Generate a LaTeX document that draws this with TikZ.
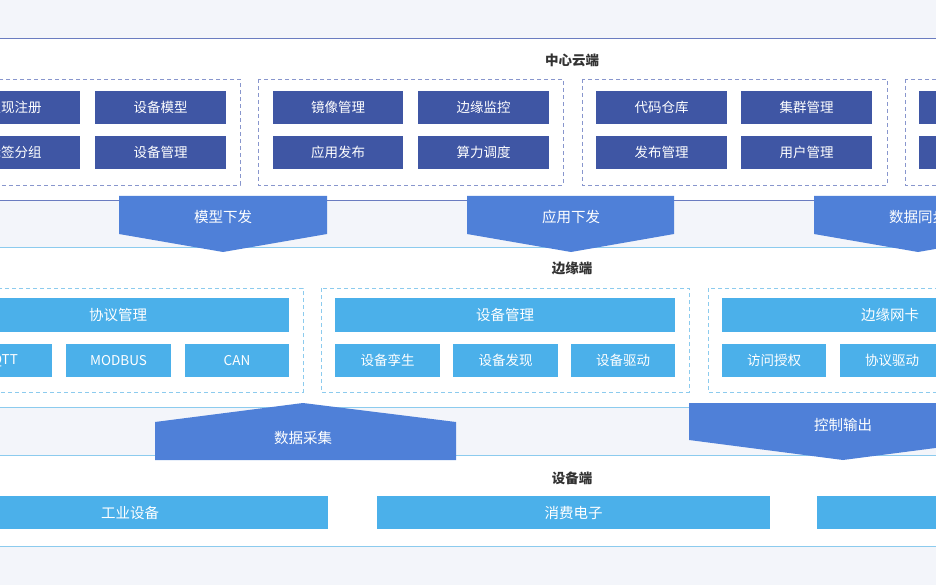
\documentclass[tikz,border=0pt]{standalone}
\usepackage{fontspec}
\setmainfont{Noto Sans CJK SC}
\definecolor{bg}{HTML}{F3F5FA}
\definecolor{dk}{HTML}{3F56A4}
\definecolor{lb}{HTML}{4BB0EA}
\definecolor{ar}{HTML}{4F80D8}
\definecolor{ln1}{HTML}{6A7CC0}
\definecolor{ln2}{HTML}{8CCBEE}
\definecolor{tt}{HTML}{333333}
\begin{document}
\begin{tikzpicture}[x=1pt,y=-1pt,
  dbox/.style={fill=dk},
  lbox/.style={fill=lb},
  bt/.style={text=white,font=\fontsize{13.5}{14}\selectfont},
  grp1/.style={draw=ln1!80,dashed,dash pattern=on 4pt off 3pt},
  grp2/.style={draw=ln2,dashed,dash pattern=on 4pt off 3pt},
  arr/.style={fill=ar},
  atxt/.style={text=white,font=\fontsize{14.5}{15}\selectfont},
  ttl/.style={text=tt,font=\fontsize{13.5}{14}\selectfont\bfseries}]
\useasboundingbox (0,0) rectangle (936,585);
\clip (0,0) rectangle (936,585);
\fill[bg] (0,0) rectangle (936,585);
% bands
\fill[white] (-10,38) rectangle (946,200);
\draw[ln1] (-10,38) -- (946,38); \draw[ln1] (-10,200) -- (946,200);
\fill[white] (-10,247) rectangle (946,407);
\draw[ln2] (-10,247) -- (946,247); \draw[ln2] (-10,407) -- (946,407);
\fill[white] (-10,455) rectangle (946,546);
\draw[ln2] (-10,455) -- (946,455); \draw[ln2] (-10,546) -- (946,546);
% cloud
\node[ttl] (t1) at (572,60) {中心云端};
\draw[grp1] (-60,79) rectangle (240,185);
\draw[grp1] (258,79) rectangle (563,185);
\draw[grp1] (582,79) rectangle (887,185);
\draw[grp1] (905,79) rectangle (1210,185);
\newcommand{\db}[5]{\path[dbox] (#2,#3) rectangle (#4,#5); \node[bt] (#1) at ({(#2+#4)/2},{(#3+#5)/2}) }
\db{c1}{-51}{91}{80}{124}{发现注册};
\db{c2}{95}{91}{226}{124}{设备模型};
\db{c3}{-51}{136}{80}{169}{标签分组};
\db{c4}{95}{136}{226}{169}{设备管理};
\db{c5}{273}{91}{403}{124}{镜像管理};
\db{c6}{418}{91}{549}{124}{边缘监控};
\db{c7}{273}{136}{403}{169}{应用发布};
\db{c8}{418}{136}{549}{169}{算力调度};
\db{c9}{596}{91}{727}{124}{代码仓库};
\db{c10}{741}{91}{872}{124}{集群管理};
\db{c11}{596}{136}{727}{169}{发布管理};
\db{c12}{741}{136}{872}{169}{用户管理};
\path[dbox] (919,91) rectangle (1050,124);
\path[dbox] (919,136) rectangle (1050,169);
% arrows down
\fill[arr] (119,196) -- (327,196) -- (327,234) -- (223,252) -- (119,234) -- cycle;
\node[atxt] (a1) at (223,217) {模型下发};
\fill[arr] (467,196) -- (674,196) -- (674,234) -- (571,252) -- (467,234) -- cycle;
\node[atxt] (a2) at (571,217) {应用下发};
\fill[arr] (814,196) -- (1022,196) -- (1022,234) -- (918,252) -- (814,234) -- cycle;
\node[atxt] (a3) at (918,217) {数据同步};
% edge
\node[ttl] (t2) at (572,268) {边缘端};
\draw[grp2] (-70,288) rectangle (303,392);
\draw[grp2] (321,288) rectangle (689,392);
\draw[grp2] (708,288) rectangle (1080,392);
\newcommand{\lbx}[5]{\path[lbox] (#2,#3) rectangle (#4,#5); \node[bt] (#1) at ({(#2+#4)/2},{(#3+#5)/2}) }
\lbx{e1}{-53}{298}{289}{332}{\fontsize{14.5}{15}\selectfont 协议管理};
\lbx{e2}{-53}{344}{52}{377}{MQTT};
\lbx{e3}{66}{344}{171}{377}{MODBUS};
\lbx{e4}{185}{344}{289}{377}{CAN};
\lbx{e5}{335}{298}{675}{332}{\fontsize{14.5}{15}\selectfont 设备管理};
\lbx{e6}{335}{344}{440}{377}{设备孪生};
\lbx{e7}{453}{344}{558}{377}{设备发现};
\lbx{e8}{571}{344}{675}{377}{设备驱动};
\lbx{e9}{722}{298}{1058}{332}{\fontsize{14.5}{15}\selectfont 边缘网卡};
\lbx{e10}{722}{344}{826}{377}{访问授权};
\lbx{e11}{840}{344}{944}{377}{协议驱动};
% arrows
\fill[arr] (155,422) -- (303,403) -- (456,422) -- (456,460) -- (155,460) -- cycle;
\node[atxt] (a4) at (303,438) {数据采集};
\fill[arr] (689,403) -- (997,403) -- (997,440) -- (843,460) -- (689,440) -- cycle;
\node[atxt] (a5) at (843,425) {控制输出};
% device
\node[ttl] (t3) at (572,478) {设备端};
\lbx{d1}{-68}{496}{328}{529}{\fontsize{14.5}{15}\selectfont 工业设备};
\lbx{d2}{377}{496}{770}{529}{\fontsize{14.5}{15}\selectfont 消费电子};
\path[lbox] (817,496) rectangle (1210,529);
\end{tikzpicture}
\end{document}
